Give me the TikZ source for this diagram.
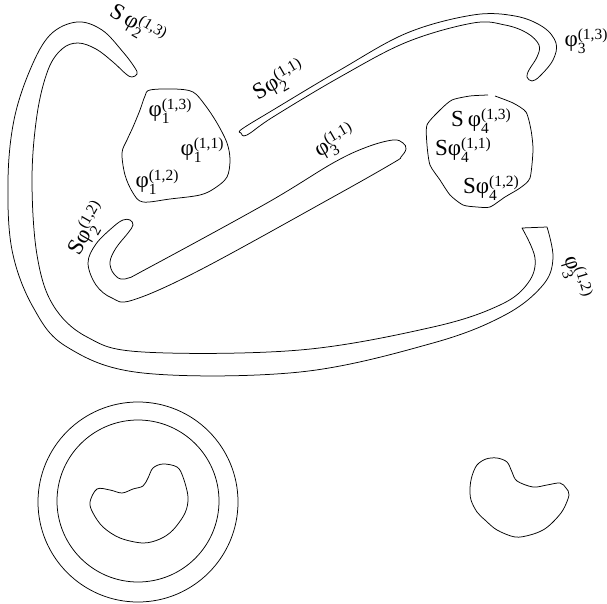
\documentclass[tikz,border=0pt]{standalone}
\usepackage{fontspec}
\setmainfont{Liberation Serif}
\newcommand{\scsz}{\fontsize{15.5}{16}\selectfont}
\newcommand{\lab}[4]{#1φ\rlap{\raisebox{-6.5pt}{\scsz #4}}\raisebox{7.5pt}{\scsz #3}}
\tikzset{
  curve/.style={line width=0.75pt, line join=round},
  lbl/.style={inner sep=0pt, font=\fontsize{23}{24}\selectfont},
}
\begin{document}
\begin{tikzpicture}[x=1pt,y=-1pt]
\useasboundingbox (0,0) rectangle (607,604);
% big band
\draw[curve] plot[smooth, tension=0.6] coordinates {
 (547,227) (553,258) (543,285) (505,315) (433,343) (300,372) (143,373)
 (67,347) (33,307) (12,250) (8,180) (14,120) (30,70) (50,35) (77,22) (102,30) (123,52) (135,68) (137,74) (132,77) (126,74) (113,62) (96,49) (78,43) (62,49) (48,70) (37,115) (32,180) (37,255) (53,305) (87,337) (143,352) (300,350) (433,327) (500,305) (528,283) (535,258) (522,228)
} -- cycle;
% top band
\draw[curve] plot[smooth cycle, tension=0.6] coordinates {
 (242,129) (273,110) (340,70) (407,33) (473,15) (515,16) (543,27) (556,43) (553,60) (540,76) (532,81) (527,77) (529,70) (537,57) (539,45) (527,33) (505,25) (473,23) (407,42) (340,77) (273,117) (247,135) (241,133)
};
% middle band
\draw[curve] plot[smooth cycle, tension=0.6] coordinates {
 (367,147) (393,140) (403,143) (406,149) (401,157) (393,163) (333,197) (200,270) (133,300) (112,298) (96,285) (88,263) (96,244) (113,227) (123,220) (130,220) (133,225) (128,233) (116,248) (110,262) (114,274) (125,279) (150,267) (267,203) (333,163)
};
% blob 1
\draw[curve] plot[smooth cycle, tension=0.55] coordinates {
 (150,90) (175,89) (193,92) (205,105) (217,123) (227,143) (230,160) (227,177) (215,188) (200,195) (170,199) (143,202) (133,193) (125,175) (122,153) (127,140) (133,127) (140,110) (145,96)
};
% blob 2 (small gap at top)
\draw[curve] plot[smooth, tension=0.4] coordinates {
 (495,96) (513,103) (526,112) (531,130) (533,150) (530,178) (520,188) (505,197) (490,207) (477,207) (463,205) (450,195) (440,180) (430,165) (427,145) (427,125) (440,110) (452,100) (470,96) (488,95)
};
% circles
\draw[curve] (138,502) circle[radius=100];
\draw[curve] (138,501) circle[radius=81];
% left kidney
\draw[curve] plot[smooth cycle, tension=0.55] coordinates {
 (90,502) (97,489) (110,490) (122,493) (133,489) (143,486) (148,478) (153,468) (163,464) (177,467) (183,477) (188,497) (185,513) (173,530) (160,539) (143,543) (120,538) (103,527) (93,513)
};
% right kidney
\draw[curve] plot[smooth cycle, tension=0.55] coordinates {
 (497,458) (507,462) (512,472) (517,481) (533,487) (547,485) (560,483) (566,488) (569,495) (563,510) (553,522) (543,530) (530,535) (515,537) (497,530) (485,520) (477,512) (471,500) (470,488) (472,476) (477,465) (486,459)
};
% labels
\node[lbl, rotate=-30] (s213) at (137,25) {\lab{S\,}{}{(1,3)}{2}};
\node[lbl, rotate=30] (s211) at (279,81) {\lab{S}{}{(1,1)}{2}};
\node[lbl] (p313) at (586,41) {\lab{}{}{(1,3)}{3}};
\node[lbl] (p113) at (170,111) {\lab{}{}{(1,3)}{1}};
\node[lbl] (p111) at (202,150) {\lab{}{}{(1,1)}{1}};
\node[lbl] (p112) at (157,182) {\lab{}{}{(1,2)}{1}};
\node[lbl, rotate=30] (p311) at (335,142) {\lab{}{}{(1,1)}{3}};
\node[lbl] (s413) at (481,121) {\lab{S\,}{}{(1,3)}{4}};
\node[lbl] (s411) at (463,150) {\lab{S}{}{(1,1)}{4}};
\node[lbl] (s412) at (491,188) {\lab{S}{}{(1,2)}{4}};
\node[lbl, rotate=60] (s212) at (88,229) {\lab{S}{}{(1,2)}{2}};
\node[lbl, rotate=-73] (p312) at (576,277) {\lab{}{}{(1,2)}{3}};
\end{tikzpicture}
\end{document}
